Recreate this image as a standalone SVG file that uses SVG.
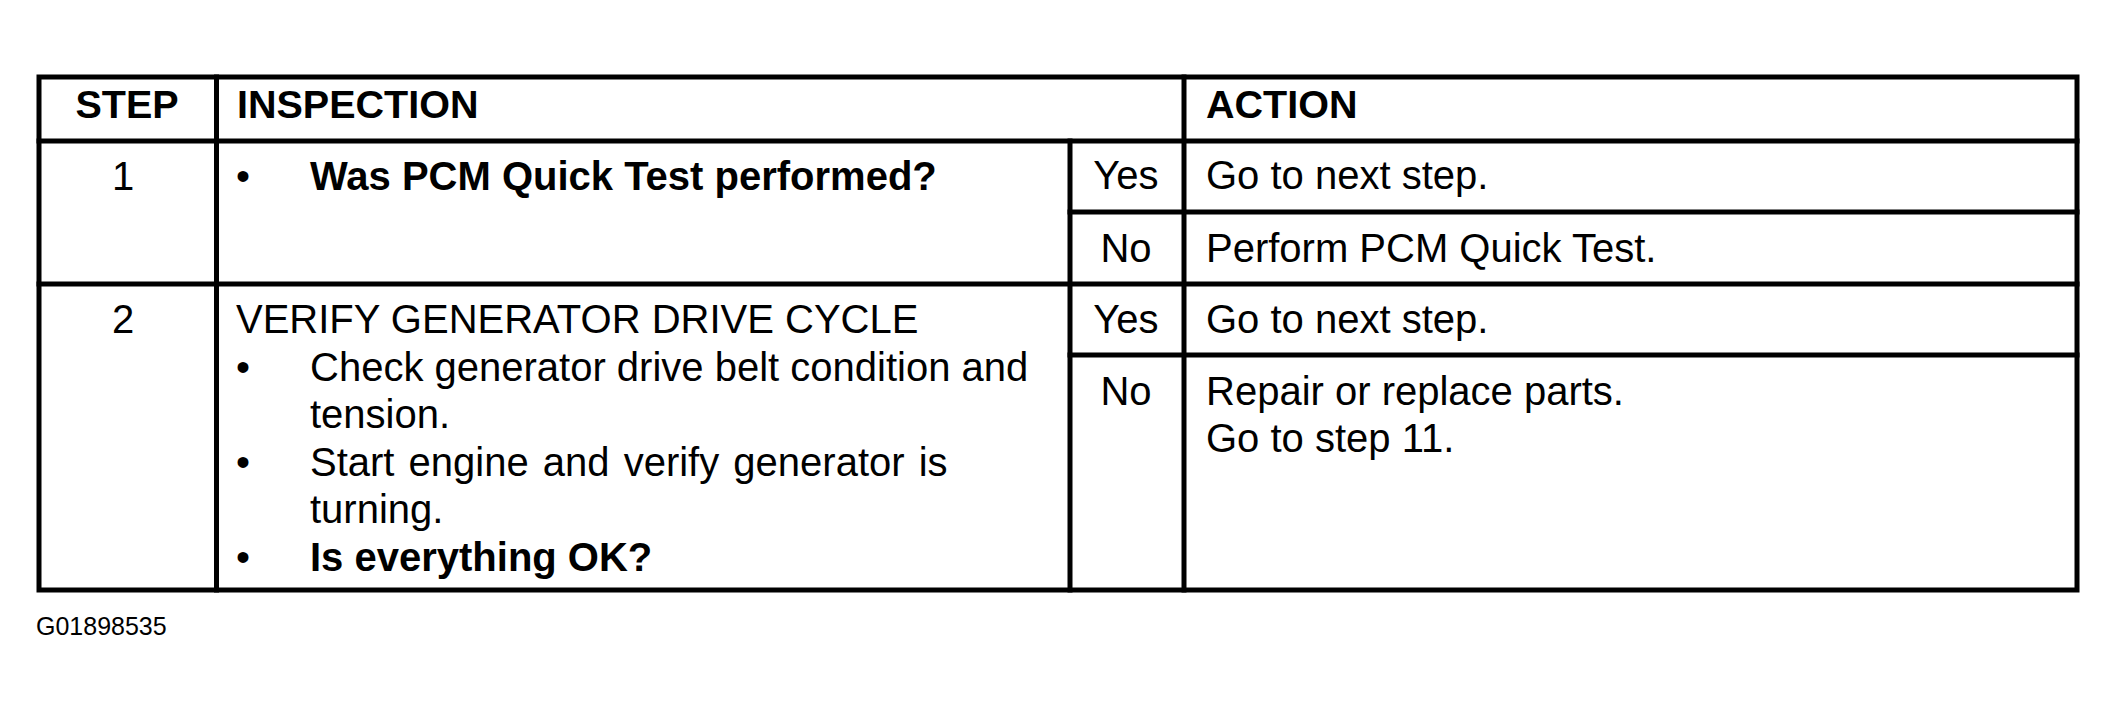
<svg xmlns="http://www.w3.org/2000/svg" width="2116" height="711" viewBox="0 0 2116 711">
<style>
.ln{stroke:#000;stroke-width:5;fill:none;stroke-linecap:square}
text{font-family:"Liberation Sans",Arial,Helvetica,sans-serif;font-size:40px;fill:#000}
.b{font-weight:bold}
.h{font-size:39.5px}
.c{text-anchor:middle}
.id{font-size:25px}
</style>
<rect width="2116" height="711" fill="#fff"/>
<g id="grid">
<rect class="ln" x="39" y="77" width="2038" height="513"/>
<line class="ln" x1="216.5" y1="77" x2="216.5" y2="590"/>
<line class="ln" x1="1070" y1="141" x2="1070" y2="590"/>
<line class="ln" x1="1184" y1="77" x2="1184" y2="590"/>
<line class="ln" x1="39" y1="141" x2="2077" y2="141"/>
<line class="ln" x1="1070" y1="212" x2="2077" y2="212"/>
<line class="ln" x1="39" y1="284" x2="2077" y2="284"/>
<line class="ln" x1="1070" y1="355" x2="2077" y2="355"/>
</g>
<g id="header">
<text class="b h c" x="127" y="118">STEP</text>
<text class="b h" x="237" y="118">INSPECTION</text>
<text class="b h" x="1206" y="118">ACTION</text>
</g>
<g id="step1">
<text class="c" x="123" y="190">1</text>
<text class="c" x="243" y="190">•</text>
<text class="b" x="310" y="190">Was PCM Quick Test performed?</text>
<text class="c" x="1126" y="189">Yes</text>
<text x="1206" y="189">Go to next step.</text>
<text class="c" x="1126" y="262">No</text>
<text x="1206" y="262">Perform PCM Quick Test.</text>
</g>
<g id="step2">
<text class="c" x="123" y="333">2</text>
<text x="236" y="333">VERIFY GENERATOR DRIVE CYCLE</text>
<text class="c" x="243" y="381">•</text>
<text x="310" y="381">Check generator drive belt condition and</text>
<text x="310" y="428">tension.</text>
<text class="c" x="243" y="476">•</text>
<text x="310" y="476" word-spacing="3">Start engine and verify generator is</text>
<text x="310" y="523">turning.</text>
<text class="c" x="243" y="571">•</text>
<text class="b" x="310" y="571">Is everything OK?</text>
<text class="c" x="1126" y="333">Yes</text>
<text x="1206" y="333">Go to next step.</text>
<text class="c" x="1126" y="405">No</text>
<text x="1206" y="405">Repair or replace parts.</text>
<text x="1206" y="452">Go to step 11.</text>
</g>
<g id="caption">
<text class="id" x="36" y="635">G01898535</text>
</g>
</svg>
